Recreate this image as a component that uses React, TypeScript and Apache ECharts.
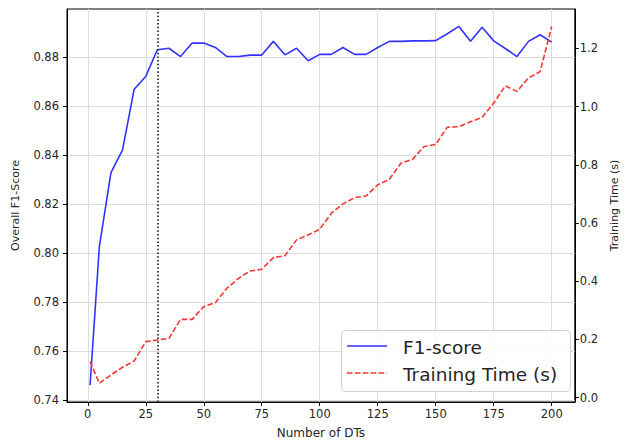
import React, { useEffect, useRef } from "react";
import * as echarts from "echarts";

const numDTs = [1, 5, 10, 15, 20, 25, 30, 35, 40, 45, 50, 55, 60, 65, 70, 75, 80, 85, 90, 95, 100, 105, 110, 115, 120, 125, 130, 135, 140, 145, 150, 155, 160, 165, 170, 175, 180, 185, 190, 195, 200];
const f1Score = [0.7461, 0.8026, 0.8328, 0.842, 0.8668, 0.872, 0.8829, 0.8835, 0.8801, 0.8856, 0.8856, 0.8838, 0.8801, 0.8801, 0.8807, 0.8807, 0.8863, 0.8808, 0.8835, 0.8784, 0.881, 0.881, 0.8838, 0.881, 0.881, 0.8838, 0.8863, 0.8863, 0.8865, 0.8865, 0.8866, 0.8894, 0.8924, 0.8863, 0.8921, 0.8865, 0.8834, 0.8801, 0.8863, 0.889, 0.886];
const trainTime = [0.1237, 0.0495, 0.078, 0.1045, 0.126, 0.1925, 0.198, 0.204, 0.269, 0.269, 0.3127, 0.3265, 0.376, 0.41, 0.4354, 0.441, 0.481, 0.488, 0.542, 0.559, 0.5786, 0.6336, 0.6656, 0.687, 0.693, 0.731, 0.75, 0.8055, 0.819, 0.8626, 0.87, 0.929, 0.931, 0.948, 0.963, 1.012, 1.071, 1.052, 1.098, 1.12, 1.275];
const xTicks = [0, 25, 50, 75, 100, 125, 150, 175, 200];
const leftTicks = [0.74, 0.76, 0.78, 0.8, 0.82, 0.84, 0.86, 0.88];
const rightTicks = [0, 0.2, 0.4, 0.6, 0.8, 1.0, 1.2];
const markerX = 30;

const FONT = "DejaVu Sans";
const TXT = "#262626";

export default function App() {
  const ref = useRef<HTMLDivElement>(null);
  useEffect(() => {
    if (!ref.current) return;
    const chart = echarts.init(ref.current, null, { renderer: "svg" });
    const tickStyle = { fontFamily: FONT, fontSize: 11.5, color: TXT };
    const yNameStyle = { fontFamily: FONT, fontSize: 11, color: TXT };
    const xNameStyle = { fontFamily: FONT, fontSize: 12, color: TXT };
    const option: any = {
      animation: false,
      backgroundColor: "#fff",
      grid: { left: 67, right: 47, top: 9, bottom: 42, show: true, borderColor: "#000", borderWidth: 1 },
      xAxis: {
        type: "value",
        min: -8.95,
        max: 209.95,
        name: "Number of DTs",
        nameLocation: "middle",
        nameGap: 25,
        nameTextStyle: xNameStyle,
        axisLine: { show: true, onZero: false, lineStyle: { color: "#000", width: 1 } },
        axisTick: { show: true, length: 4, customValues: xTicks, lineStyle: { color: "#000" } },
        axisLabel: { ...tickStyle, margin: 6, customValues: xTicks, formatter: (v: number) => String(v) },
        splitLine: { show: true, lineStyle: { color: "#dcdcdc", width: 1 } },
      },
      yAxis: [
        {
          type: "value",
          position: "left",
          min: 0.7392,
          max: 0.8995,
          name: "Overall F1-Score",
          nameLocation: "middle",
          nameGap: 46,
          nameTextStyle: yNameStyle,
          axisLine: { show: true, onZero: false, lineStyle: { color: "#000" } },
          axisTick: { show: true, length: 4, customValues: leftTicks, lineStyle: { color: "#000" } },
          axisLabel: { ...tickStyle, margin: 8, customValues: leftTicks, formatter: (v: number) => v.toFixed(2) },
          splitLine: { show: true, lineStyle: { color: "#dcdcdc", width: 1 } },
        },
        {
          type: "value",
          position: "right",
          min: -0.0148,
          max: 1.335,
          name: "Training Time (s)",
          nameLocation: "middle",
          nameGap: 34,
          nameTextStyle: yNameStyle,
          axisLine: { show: true, onZero: false, lineStyle: { color: "#000" } },
          axisTick: { show: true, length: 4, customValues: rightTicks, lineStyle: { color: "#000" } },
          axisLabel: { ...tickStyle, margin: 5, customValues: rightTicks, formatter: (v: number) => v.toFixed(1) },
          splitLine: { show: false },
        },
      ],
      series: [
        {
          name: "F1-score",
          type: "line",
          yAxisIndex: 0,
          data: numDTs.map((x, i) => [x, f1Score[i]]),
          symbol: "none",
          lineStyle: { color: "#3333ff", width: 1.6 },
          z: 3,
          markLine: {
            silent: true,
            symbol: ["none", "none"],
            label: { show: false },
            lineStyle: { color: "#222", type: [1.5, 2.2], width: 1.7 },
            data: [{ xAxis: markerX }],
          },
        },
        {
          name: "Training Time (s)",
          type: "line",
          yAxisIndex: 1,
          data: numDTs.map((x, i) => [x, trainTime[i]]),
          symbol: "none",
          lineStyle: { color: "#ff3333", width: 1.6, type: [5.5, 2.4] },
          z: 3,
        },
      ],
      graphic: [
        {
          type: "rect",
          shape: { x: 341.5, y: 330.5, width: 229, height: 61, r: 4 },
          style: { fill: "rgba(255,255,255,0.85)", stroke: "#d0d0d0", lineWidth: 1 },
          z: 10,
        },
        {
          type: "line",
          shape: { x1: 347, y1: 346, x2: 387, y2: 346 },
          style: { stroke: "#3333ff", lineWidth: 1.6 },
          z: 11,
        },
        {
          type: "line",
          shape: { x1: 347, y1: 373, x2: 387, y2: 373 },
          style: { stroke: "#ff3333", lineWidth: 1.6, lineDash: [5.5, 2.4] },
          z: 11,
        },
        {
          type: "text",
          x: 403,
          y: 347,
          style: { text: "F1-score", fontFamily: FONT, fontSize: 18.5, fill: TXT, verticalAlign: "middle", textVerticalAlign: "middle", align: "left" },
          z: 11,
        },
        {
          type: "text",
          x: 403,
          y: 374,
          style: { text: "Training Time (s)", fontFamily: FONT, fontSize: 18.5, fill: TXT, verticalAlign: "middle", textVerticalAlign: "middle", align: "left" },
          z: 11,
        },
      ],
    };
    chart.setOption(option);
    return () => chart.dispose();
  }, []);
  return <div ref={ref} style={{ width: 628, height: 444, position: "absolute", left: 0, top: 0 }} />;
}
